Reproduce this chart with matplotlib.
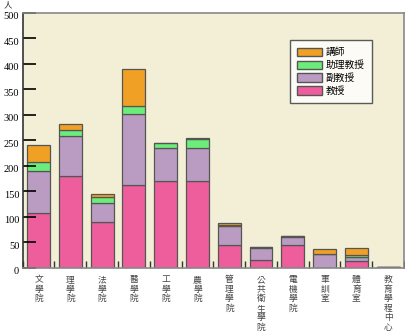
import matplotlib
matplotlib.use("Agg")
import matplotlib.pyplot as plt
import matplotlib.transforms as mtransforms
from matplotlib.patches import Patch
import numpy as np

plt.rcParams['font.family'] = ['Noto Sans CJK TC', 'DejaVu Sans']

colleges = ["文學院", "理學院", "法學院", "醫學院", "工學院", "農學院",
            "管理學院", "公共衛生學院", "電機學院", "軍訓室", "體育室", "教育學程中心"]
professor = [107, 180, 90, 163, 170, 170, 45, 16, 45, 0, 13, 2]
assoc_prof = [83, 79, 38, 138, 65, 65, 37, 23, 15, 28, 8, 0]
assist_prof = [17, 12, 12, 17, 10, 17, 3, 3, 2, 0, 4, 0]
lecturer = [34, 11, 5, 72, 0, 3, 4, 0, 1, 10, 14, 0]
y_ticks = list(range(0, 501, 50))

series = [
    ("教授", professor, "#EE5E9C"),
    ("副教授", assoc_prof, "#BA9CC2"),
    ("助理教授", assist_prof, "#6CEC7A"),
    ("講師", lecturer, "#F0A024"),
]

W, H = 406, 334
fig = plt.figure(figsize=(W / 100, H / 100), dpi=100)
ax_left, ax_right, ax_top, ax_bottom = 22.7, 404, 12.7, 268
ax = fig.add_axes([ax_left / W, 1 - ax_bottom / H, (ax_right - ax_left) / W,
                   (ax_bottom - ax_top) / H])
ax.set_facecolor("#F2EFD6")

x = np.arange(len(colleges))
bottom = np.zeros(len(colleges))
for name, vals, col in series:
    v = np.array(vals, dtype=float)
    ax.bar(x, v, width=0.72, bottom=bottom, color=col, edgecolor="#555555",
           linewidth=0.9, label=name)
    bottom += v

ax.set_xlim(-0.5, len(colleges) - 0.5)
ax.set_ylim(0, 500)
ax.set_yticks(y_ticks)
ax.set_yticklabels([str(t) for t in y_ticks], fontfamily="Liberation Serif",
                   fontsize=7.5)
ax.tick_params(axis="y", direction="in", length=9, width=1.2, pad=2.5, color="black")
shift = mtransforms.ScaledTranslation(0, -3 / 100, fig.dpi_scale_trans)
for lab in ax.get_yticklabels():
    lab.set_transform(lab.get_transform() + shift)

ax.set_xticks(np.arange(len(colleges) + 1) - 0.5)
ax.set_xticklabels([])
ax.tick_params(axis="x", direction="in", length=5, width=1.0, color="#333333")

# vertical (stacked) category names below the axis
char_step = 9.6 / 100  # inches
for i, name in enumerate(colleges):
    for k, ch in enumerate(name):
        off = mtransforms.ScaledTranslation(0, -(7 / 100 + k * char_step),
                                            fig.dpi_scale_trans)
        ax.text(i, 0, ch, ha="center", va="top", fontsize=6.3, color="#444444",
                transform=ax.get_xaxis_transform() + off, clip_on=False)

fig.text(8 / W, 1 - 0.5 / H, "人", ha="center", va="top", fontsize=6,
         color="#222222")

for s in ["top", "right", "bottom"]:
    ax.spines[s].set_color("#888888")
    ax.spines[s].set_linewidth(1.2)
ax.spines["left"].set_color("#333333")
ax.spines["left"].set_linewidth(1.2)

handles = [Patch(facecolor=c, edgecolor="#555555", label=n)
           for n, _, c in reversed(series)]
leg = ax.legend(handles=handles, loc="upper left",
                bbox_to_anchor=((290 - ax_left) / (ax_right - ax_left),
                                1 - (40 - ax_top) / (ax_bottom - ax_top)),
                fontsize=7, frameon=True, fancybox=False, edgecolor="#333333",
                handlelength=2.5, handleheight=1.0, borderpad=0.75,
                labelspacing=0.3, handletextpad=0.4, borderaxespad=0)
leg.get_frame().set_linewidth(1.0)

fig.savefig("out.png", dpi=100, facecolor="white")
